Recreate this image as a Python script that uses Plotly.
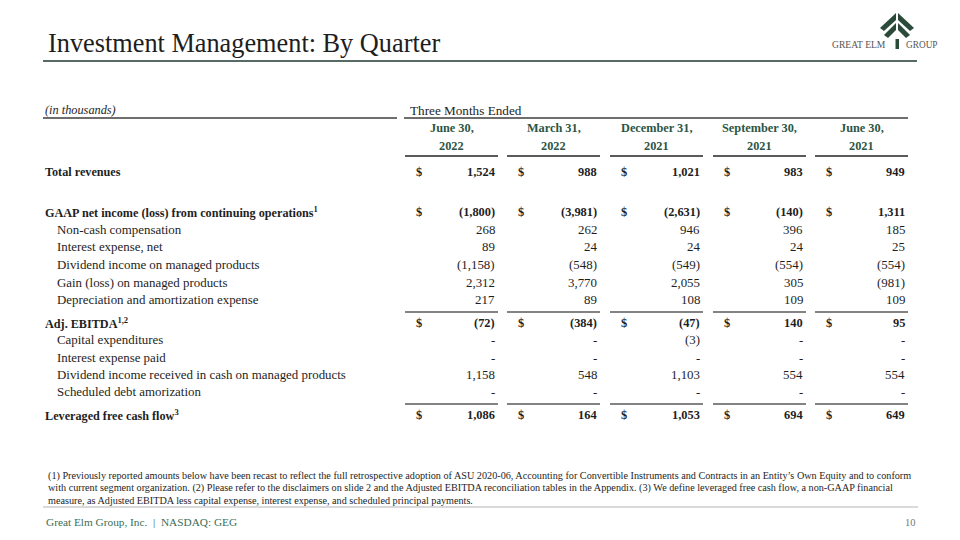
import plotly.graph_objects as go

# ---------------- data ----------------
periods_top = ["June 30,", "March 31,", "December 31,", "September 30,", "June 30,"]
periods_year = ["2022", "2022", "2021", "2021", "2021"]

row_labels = [
    "Total revenues",
    "GAAP net income (loss) from continuing operations<sup>1</sup>",
    "Non-cash compensation",
    "Interest expense, net",
    "Dividend income on managed products",
    "Gain (loss) on managed products",
    "Depreciation and amortization expense",
    "Adj. EBITDA<sup>1,2</sup>",
    "Capital expenditures",
    "Interest expense paid",
    "Dividend income received in cash on managed products",
    "Scheduled debt amorization",
    "Leveraged free cash flow<sup>3</sup>",
]
row_bold = [True, True, False, False, False, False, False, True, False, False, False, False, True]

total_revenues = [1524, 988, 1021, 983, 949]
gaap_net_income = [-1800, -3981, -2631, -140, 1311]
non_cash_comp = [268, 262, 946, 396, 185]
interest_expense_net = [89, 24, 24, 24, 25]
dividend_income = [-1158, -548, -549, -554, -554]
gain_loss_managed = [2312, 3770, 2055, 305, -981]
dep_amort = [217, 89, 108, 109, 109]
adj_ebitda = [-72, -384, -47, 140, 95]
capex = [None, None, -3, None, None]
interest_paid = [None, None, None, None, None]
dividend_received = [1158, 548, 1103, 554, 554]
sched_debt = [None, None, None, None, None]
leveraged_fcf = [1086, 164, 1053, 694, 649]

rows = [total_revenues, gaap_net_income, non_cash_comp, interest_expense_net,
        dividend_income, gain_loss_managed, dep_amort, adj_ebitda, capex,
        interest_paid, dividend_received, sched_debt, leveraged_fcf]

footnote_lines = [
    "(1) Previously reported amounts below have been recast to reflect the full retrospective adoption of ASU 2020-06, Accounting for Convertible Instruments and Contracts in an Entity\u2019s Own Equity and to conform",
    "with current segment organization. (2) Please refer to the disclaimers on slide 2 and the Adjusted EBITDA reconciliation tables in the Appendix. (3) We define leveraged free cash flow, a non-GAAP financial",
    "measure, as Adjusted EBITDA less capital expense, interest expense, and scheduled principal payments.",
]

# ---------------- layout positions ----------------
row_y = [172, 212, 229.5, 247, 265, 282.5, 300, 323, 340, 357.5, 375, 392, 415]
col_left = [405, 507, 610, 713, 815]
col_w = 93
col_right_val = [c + 92 for c in col_left]
dollar_x = [c + 8.5 for c in col_left]

SERIF = "Liberation Serif"
TXT = "#1e1e1e"
HDR = "#2d5545"
GREEN = "#3c6e55"

def fmt(v):
    if v is None:
        return "-"
    s = f"{abs(v):,}"
    return f"({s})" if v < 0 else s

ann = []
shapes = []

def text(x, y, t, size, color=TXT, xanchor="left", family=SERIF):
    ann.append(dict(x=x, y=y, xref="x", yref="y", text=t, showarrow=False,
                    xanchor=xanchor, yanchor="middle",
                    font=dict(family=family, size=size, color=color)))

def line(x0, x1, y, color="#6e6e6e", w=2):
    shapes.append(dict(type="line", xref="x", yref="y", x0=x0, x1=x1, y0=y, y1=y,
                       line=dict(color=color, width=w)))

# title
text(46, 43, "Investment Management: By Quarter", 26.3)
line(43, 917, 61, color="#566a66", w=2)

# logo
logo_col = "#2b4a3a"
for p in ["M 896 13 L 880 28 L 884 31 L 896 20 Z",
          "M 898 13 L 914 28 L 910 31 L 898 20 Z",
          "M 896 23 L 884 35 L 888 38 L 896 30 Z",
          "M 898 23 L 910 35 L 906 38 L 898 30 Z"]:
    shapes.append(dict(type="path", xref="x", yref="y", path=p,
                       fillcolor=logo_col, line=dict(width=0)))
shapes.append(dict(type="rect", xref="x", yref="y", x0=895.5, x1=899, y0=39, y1=49,
                   fillcolor=logo_col, line=dict(width=0)))
text(888, 44.5, "GREAT ELM", 9.6, color="#555555", xanchor="right")
text(904, 44.5, "GROUP", 9.3, color="#555555")

# table header
text(43, 110, "<i>(in thousands)</i>", 12.3)
line(43, 397, 118)
text(408, 110, "Three Months Ended", 13.2)
line(404, 908, 118)
for i in range(5):
    cx = col_left[i] + col_w / 2
    text(cx, 128, f"<b>{periods_top[i]}</b>", 12.3, color=HDR, xanchor="center")
    text(cx, 146, f"<b>{periods_year[i]}</b>", 12.3, color=HDR, xanchor="center")
    line(col_left[i], col_left[i] + col_w, 156, color="#5a5a5a")
    line(col_left[i], col_left[i] + col_w, 312, color="#5a5a5a", w=1.5)
    line(col_left[i], col_left[i] + col_w, 404, color="#5a5a5a", w=1.5)

# table body
for r, (lab, vals, bold, y) in enumerate(zip(row_labels, rows, row_bold, row_y)):
    if bold:
        text(43, y, f"<b>{lab}</b>", 12.2)
    else:
        text(55, y, lab, 12.9)
    for i in range(5):
        s = fmt(vals[i])
        if bold:
            text(col_right_val[i], y, f"<b>{s}</b>", 12.4, xanchor="right")
            text(dollar_x[i], y, "<b>$</b>", 12.4, xanchor="left")
        else:
            text(col_right_val[i], y, s, 12.9, xanchor="right")

# footnotes
for k, fl in enumerate(footnote_lines):
    text(46, 475.5 + k * 12.3, fl, 10.2)
line(43, 918, 507, color="#b5b5b5", w=1)

# footer
text(44, 522, "Great Elm Group, Inc.  |  NASDAQ: GEG", 11.3, color=GREEN)
text(918, 522, "10", 10.5, color="#777777", xanchor="right")

# The page body has an 8px default margin: size and range the figure so that
# axis units equal page pixels.
fig = go.Figure()
fig.add_trace(go.Scatter(x=[8, 960], y=[8, 540], mode="markers",
                         marker=dict(opacity=0), hoverinfo="skip", showlegend=False))
fig.update_layout(
    width=952, height=532, autosize=False,
    margin=dict(l=0, r=0, t=0, b=0),
    paper_bgcolor="white", plot_bgcolor="white",
    xaxis=dict(range=[8, 960], visible=False, fixedrange=True),
    yaxis=dict(range=[540, 8], visible=False, fixedrange=True),
    annotations=ann, shapes=shapes, showlegend=False,
)
fig.write_html("out.html")
